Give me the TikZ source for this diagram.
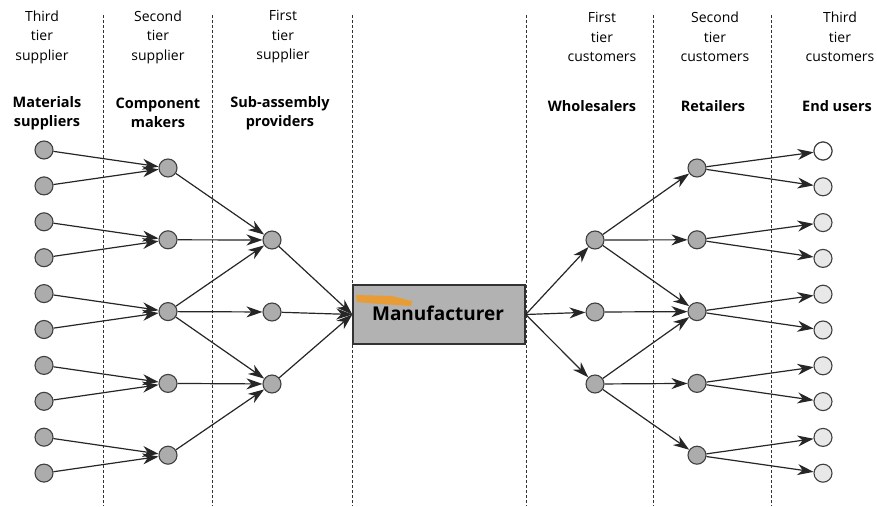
\documentclass[tikz,border=0pt]{standalone}
\usepackage{fontspec}
\setmainfont{Open Sans}
\usetikzlibrary{arrows.meta}
\begin{document}
\begin{tikzpicture}[x=1pt,y=-1pt,
  dot/.style={circle, draw=black!75, fill=gray!65, line width=1.1pt, minimum size=18pt, inner sep=0pt},
  enddot/.style={dot, fill=gray!18},
  arr/.style={-{Stealth[length=16pt,width=11pt,inset=5pt]}, line width=1.2pt, draw=black!85},
  divider/.style={dashed, dash pattern=on 3pt off 2pt, line width=1pt, draw=black!80},
  hdr/.style={align=center, font=\fontsize{14}{19.5}\selectfont, inner sep=0pt},
  lbl/.style={align=center, font=\bfseries\fontsize{14.5}{18.5}\selectfont, inner sep=0pt},
  mfr/.style={rectangle, draw=black!80, line width=1.4pt, fill=gray!60, minimum width=172pt, minimum height=59pt, inner sep=0pt}
]
\useasboundingbox (0,0) rectangle (877,506);
\fill[white] (0,0) rectangle (877,506);

% dividers
\foreach \x in {103,212,352,526,653,771}
  \draw[divider] (\x,15) -- (\x,506);

% headers
\node[hdr] (h1) at (42,37) {Third\\tier\\supplier};
\node[hdr] (h2) at (158,37) {Second\\tier\\supplier};
\node[hdr] (h3) at (283,37) {First\\tier\\supplier};
\node[hdr] (h4) at (602,37) {First\\tier\\customers};
\node[hdr] (h5) at (715,37) {Second\\tier\\customers};
\node[hdr] (h6) at (840,37) {Third\\tier\\customers};

\node[lbl] (b1) at (47,113) {Materials\\suppliers};
\node[lbl] (b2) at (158,113) {Component\\makers};
\node[lbl] (b3) at (280,113) {Sub-assembly\\providers};
\node[lbl] (b4) at (592,106) {Wholesalers};
\node[lbl] (b5) at (713,106) {Retailers};
\node[lbl] (b6) at (837,106) {End users};

% manufacturer
\node[mfr] (M) at (439,314.5) {};
\fill[orange!85!yellow, opacity=0.7] (356,295) -- (392,296) -- (412,301) -- (411,306) -- (380,304) -- (357,302) -- cycle;
\node[font=\bfseries\fontsize{19}{22}\selectfont, inner sep=0pt] (Mt) at (438,313) {Manufacturer};

% nodes
\foreach \i in {1,...,10} {
  \node[dot] (L\i) at (44,{150+35.9*(\i-1)}) {};
  \node[enddot] (E\i) at (823,{151+35.8*(\i-1)}) {};
}
\node[dot, fill=white] at (E1) {};
\foreach \i in {1,...,5} {
  \node[dot] (C\i) at (168,{168+71.8*(\i-1)}) {};
  \node[dot] (R\i) at (697,{168+71.8*(\i-1)}) {};
}
\foreach \i in {1,2,3} {
  \node[dot] (S\i) at (272,{240+72*(\i-1)}) {};
  \node[dot] (W\i) at (595,{240+72*(\i-1)}) {};
}

% edges left
\foreach \a/\b in {L1/C1,L2/C1,L3/C2,L4/C2,L5/C3,L6/C3,L7/C4,L8/C4,L9/C5,L10/C5,
                   C1/S1,C2/S1,C3/S1,C3/S2,C3/S3,C4/S3,C5/S3}
  \draw[arr] (\a) -- (\b);
\foreach \s in {S1,S2,S3}
  \draw[arr] (\s) -- (M.west);
\foreach \w in {W1,W2,W3}
  \draw[arr] (M.east) -- (\w);
\foreach \a/\b in {W1/R1,W1/R2,W1/R3,W2/R3,W3/R3,W3/R4,W3/R5,
                   R1/E1,R1/E2,R2/E3,R2/E4,R3/E5,R3/E6,R4/E7,R4/E8,R5/E9,R5/E10}
  \draw[arr] (\a) -- (\b);
\end{tikzpicture}
\end{document}
